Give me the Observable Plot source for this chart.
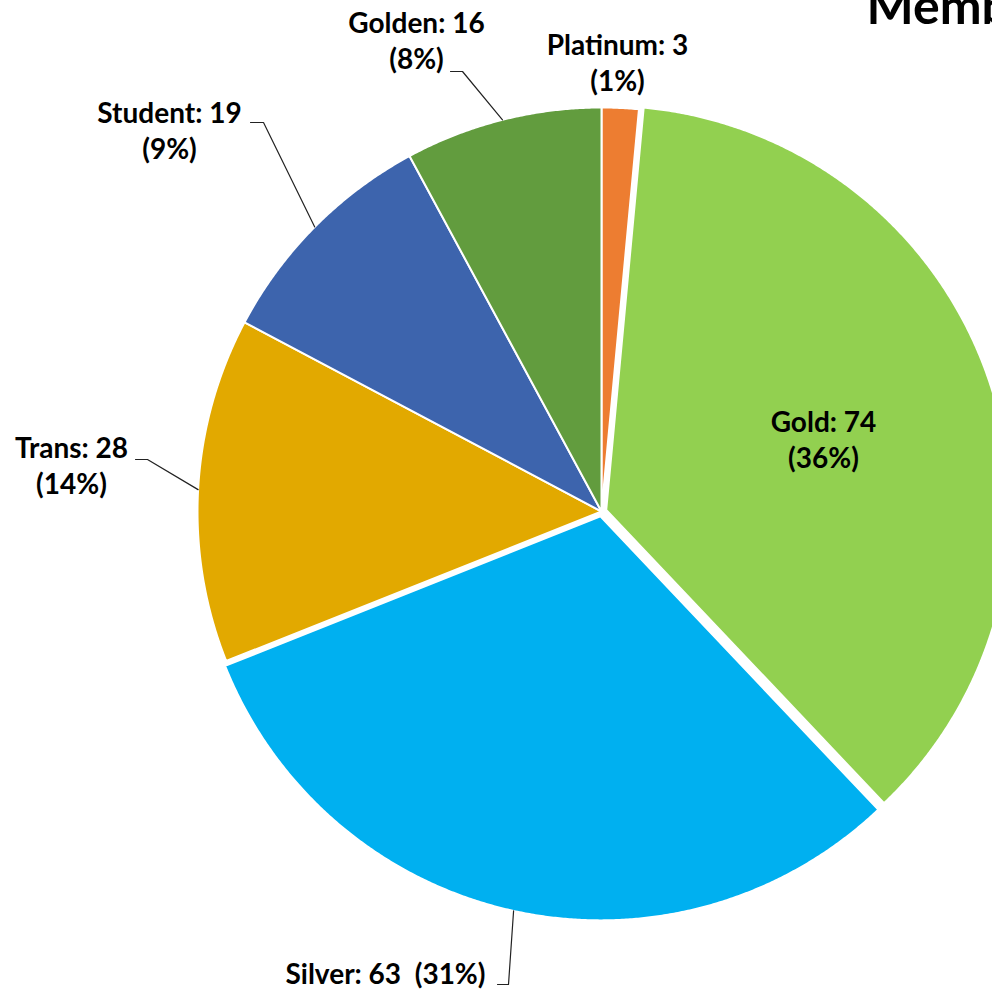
<!DOCTYPE html>
<html><head><meta charset="utf-8">
<script src="https://cdn.jsdelivr.net/npm/d3@7"></script>
<script src="https://cdn.jsdelivr.net/npm/@observablehq/plot@0.6"></script>
<style>html,body{margin:0;padding:0;background:#fff;overflow:hidden}</style>
</head><body><div id="chart"></div>
<script>
// ---- data ----
const categories = ["Platinum", "Gold", "Silver", "Trans", "Student", "Golden"];
const values = [3, 74, 63, 28, 19, 16];
const colors = ["#ED7D31", "#92D050", "#00B0F0", "#E2A900", "#3D64AD", "#629C3E"];
const title = "Membership";

// ---- layout (pixels) ----
const W = 992, H = 992, cx = 601, cy = 511, R = 404;
const explodePx = [0, 5, 5, 0, 0, 0];
// label anchor: x center, baseline of last line
const labelPos = [[617, 90], [823, 467], [385, 983], [71, 493], [169, 158], [416, 68]];
const labelOneLine = [false, false, true, false, false, false];
// leader line: start and knee points (null = none)
const leaderPts = [null, null, [[497, 984], [508, 984]], [[135, 459], [147, 459]], [[250, 122], [263, 122]], [[450, 71], [462, 71]]];

const total = d3.sum(values);
const px = v => (v - cx) / R, py = v => (v - cy) / R;
const arcs = d3.pie().sort(null).startAngle(0).endAngle(2 * Math.PI)(values);

const slicePts = [], leaderData = [], labelData = [];
arcs.forEach((a, i) => {
  const mid = (a.startAngle + a.endAngle) / 2;
  const ox = explodePx[i] / R * Math.sin(mid), oy = -explodePx[i] / R * Math.cos(mid);
  slicePts.push({cat: categories[i], x: ox, y: oy});
  const n = Math.max(2, Math.ceil((a.endAngle - a.startAngle) / 0.005));
  for (let k = 0; k <= n; k++) {
    const t = a.startAngle + (a.endAngle - a.startAngle) * k / n;
    slicePts.push({cat: categories[i], x: ox + Math.sin(t), y: oy - Math.cos(t)});
  }
  const pct = Math.round(values[i] / total * 100) + "%";
  const text = labelOneLine[i]
    ? `${categories[i]}: ${values[i]}\u00a0\u00a0(${pct})`
    : `${categories[i]}: ${values[i]}\n(${pct})`;
  labelData.push({x: px(labelPos[i][0]), y: py(labelPos[i][1]), text});
  if (leaderPts[i]) {
    const [s, k] = leaderPts[i];
    leaderData.push({id: i, x: px(s[0]), y: py(s[1])});
    leaderData.push({id: i, x: px(k[0]), y: py(k[1])});
    leaderData.push({id: i, x: ox + Math.sin(mid), y: oy - Math.cos(mid)});
  }
});

const font = "Lato, 'Open Sans', sans-serif";
const fs = 28;
const plot = Plot.plot({
  width: W, height: H,
  margin: 0,
  x: {domain: [px(0), px(W)], range: [0, W], axis: null},
  y: {domain: [py(0), py(H)], range: [0, H], axis: null},
  color: {domain: categories, range: colors},
  marks: [
    Plot.line(slicePts, {x: "x", y: "y", z: "cat", fill: "cat", stroke: "white", strokeWidth: 2, curve: "linear-closed", clip: true}),
    Plot.line(leaderData, {x: "x", y: "y", z: "id", stroke: "#222", strokeWidth: 1.2}),
    Plot.text(labelData, {x: "x", y: "y", text: "text", fontSize: fs, fontWeight: "bold", fontFamily: font, fill: "black", textAnchor: "middle", lineAnchor: "bottom", lineHeight: 36 / fs}),
    Plot.text([title], {x: px(866), y: py(23), text: d => d, fontSize: 50, fontWeight: "bold", fontFamily: font, fill: "black", textAnchor: "start", lineAnchor: "bottom"})
  ]
});
document.getElementById("chart").appendChild(plot);
</script>
</body></html>
